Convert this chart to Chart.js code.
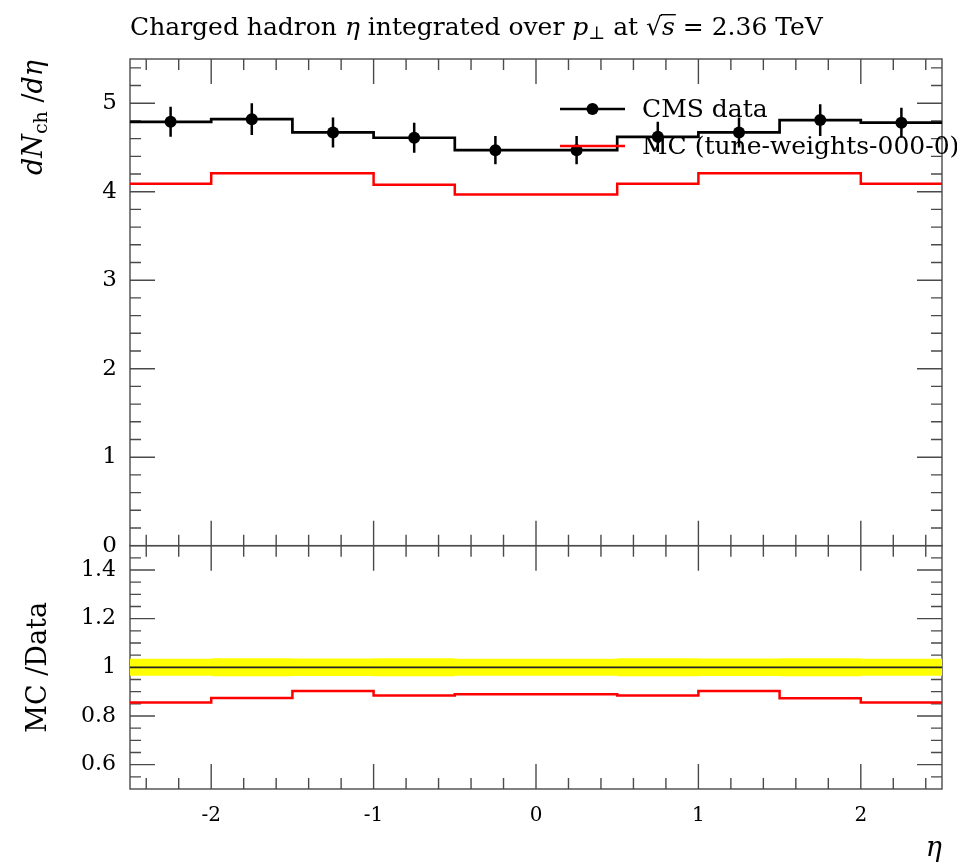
<!DOCTYPE html>
<html>
<head>
<meta charset="utf-8">
<script src="https://cdn.jsdelivr.net/npm/chart.js@4"></script>
<style>
  html, body { margin: 0; padding: 0; background: #fff; }
  #plot { display: block; }
</style>
</head>
<body>
<canvas id="plot" width="957" height="864"></canvas>
<script>
// eta bins and measured / generated dN/deta
var binEdges = [-2.5, -2, -1.5, -1, -0.5, 0, 0.5, 1, 1.5, 2, 2.5];
var cmsValues = [4.79, 4.82, 4.67, 4.61, 4.47, 4.47, 4.62, 4.67, 4.81, 4.78];
var cmsErrors = [0.17, 0.18, 0.17, 0.17, 0.16, 0.16, 0.17, 0.17, 0.18, 0.17];
var mcValues = [4.09, 4.21, 4.21, 4.08, 3.97, 3.97, 4.09, 4.21, 4.21, 4.09];
// ratio panel
var mcRatio = [0.855, 0.874, 0.903, 0.884, 0.889, 0.889, 0.884, 0.903, 0.873, 0.855];
var bandHalf = [0.035, 0.037, 0.036, 0.037, 0.035, 0.035, 0.037, 0.036, 0.037, 0.035];
var unity = 1;
// tick labels
var xTicks = [-2, -1, 0, 1, 2];
var mainTicks = [0, 1, 2, 3, 4, 5];
var ratioTicks = [0.6, 0.8, 1, 1.2, 1.4];

var SERIF = '"DejaVu Serif", serif';
Chart.defaults.font.family = SERIF;
Chart.defaults.color = '#000';

// histogram outline: one point per lower edge, plus the last upper edge
function stepPoints(vals) {
	var pts = vals.map(function (v, i) { return { x: binEdges[i], y: v }; });
	pts.push({ x: binEdges[binEdges.length - 1], y: vals[vals.length - 1] });
	return pts;
}
function binCenters(vals) {
	return vals.map(function (v, i) { return { x: (binEdges[i] + binEdges[i + 1]) / 2, y: v }; });
}

var cmsPoints = binCenters(cmsValues);
var bandUp = stepPoints(bandHalf.map(function (h) { return unity + h; }));
var bandDown = stepPoints(bandHalf.map(function (h) { return unity - h; }));

function stepLine(data, color, axis, width) {
	return {
		data: data, yAxisID: axis, borderColor: color, borderWidth: width,
		stepped: 'before', pointRadius: 0, fill: false
	};
}

// mixed-font text run
function richWidth(ctx, parts) {
	var w = 0;
	parts.forEach(function (p) { ctx.font = p.f; w += ctx.measureText(p.t).width; });
	return w;
}
function drawRich(ctx, parts, x, y) {
	parts.forEach(function (p) {
		ctx.font = p.f;
		var w = ctx.measureText(p.t).width;
		ctx.fillText(p.t, x, y + (p.dy || 0));
		if (p.over) ctx.fillRect(x - 1, y - p.over, w + 2, 1.4);
		x += w;
	});
}

var R = '25px ' + SERIF, I = 'italic 25px ' + SERIF, S = '18px ' + SERIF;
var titleParts = [
	{ t: 'Charged hadron ', f: R }, { t: 'η', f: I }, { t: ' integrated over ', f: R },
	{ t: 'p', f: I }, { t: '⊥', f: S, dy: 4 }, { t: ' at ', f: R }, { t: '√', f: R },
	{ t: 's', f: I, over: 21 }, { t: ' = 2.36 TeV', f: R }
];
var R2 = '27px ' + SERIF, I2 = 'italic 27px ' + SERIF, S2 = '19px ' + SERIF;
var yTitleParts = [
	{ t: 'd', f: I2 }, { t: 'N', f: I2 }, { t: 'ch', f: S2, dy: 5 },
	{ t: ' /', f: R2 }, { t: 'd', f: I2 }, { t: 'η', f: I2 }
];
var ratioTitleParts = [{ t: 'MC /Data', f: R2 }];

// frame with inward ticks on both panels
var framePlugin = {
	id: 'frame',
	beforeDatasetsDraw: function (chart) {
		var ctx = chart.ctx, sx = chart.scales.x;
		var panels = [
			{ s: chart.scales.y, step: 0.2, from: 0, n: 27, major: function (k) { return k % 5 === 0; } },
			{ s: chart.scales.yr, step: 0.05, from: 0.5, n: 19, major: function (k) { return (k - 2) % 4 === 0; } }
		];
		ctx.save();
		ctx.strokeStyle = '#4a4a4a';
		ctx.lineWidth = 1.4;
		panels.forEach(function (p) {
			var s = p.s;
			ctx.strokeRect(sx.left, s.top, sx.right - sx.left, s.bottom - s.top);
			ctx.beginPath();
			for (var k = -12; k <= 12; k++) {
				var px = sx.getPixelForValue(k / 5);
				var len = k % 5 === 0 ? 25 : 11;
				ctx.moveTo(px, s.top); ctx.lineTo(px, s.top + len);
				ctx.moveTo(px, s.bottom); ctx.lineTo(px, s.bottom - len);
			}
			for (var j = 1; j <= p.n; j++) {
				var py = s.getPixelForValue(p.from + j * p.step);
				var l2 = p.major(j) ? 25 : 11;
				ctx.moveTo(sx.left, py); ctx.lineTo(sx.left + l2, py);
				ctx.moveTo(sx.right, py); ctx.lineTo(sx.right - l2, py);
			}
			ctx.stroke();
		});
		ctx.restore();
	}
};

var errorBarPlugin = {
	id: 'errorBars',
	afterDatasetsDraw: function (chart) {
		var ctx = chart.ctx, sx = chart.scales.x, sy = chart.scales.y;
		ctx.save();
		ctx.strokeStyle = '#000';
		ctx.lineWidth = 2.5;
		ctx.beginPath();
		cmsPoints.forEach(function (p, i) {
			var px = sx.getPixelForValue(p.x);
			ctx.moveTo(px, sy.getPixelForValue(p.y - cmsErrors[i]));
			ctx.lineTo(px, sy.getPixelForValue(p.y + cmsErrors[i]));
		});
		ctx.stroke();
		ctx.restore();
	}
};

var textPlugin = {
	id: 'texts',
	afterDraw: function (chart) {
		var ctx = chart.ctx, sx = chart.scales.x;
		var ds = chart.data.datasets;
		ctx.save();
		ctx.fillStyle = '#000';
		ctx.textBaseline = 'alphabetic';
		ctx.textAlign = 'left';

		drawRich(ctx, titleParts, 130, 35);

		// legend
		var lx = 560, lw = 65;
		ctx.lineWidth = 2.5;
		ctx.strokeStyle = '#000';
		ctx.beginPath(); ctx.moveTo(lx, 109); ctx.lineTo(lx + lw, 109); ctx.stroke();
		ctx.beginPath(); ctx.arc(lx + lw / 2, 109, 6, 0, Math.PI * 2); ctx.fill();
		ctx.strokeStyle = '#ff0000';
		ctx.beginPath(); ctx.moveTo(lx, 146); ctx.lineTo(lx + lw, 146); ctx.stroke();
		ctx.font = R;
		ctx.fillText(ds[0].label, 642, 117);
		ctx.fillText(ds[2].label, 642, 154);

		// axis titles
		ctx.save();
		ctx.translate(42, 60);
		ctx.rotate(-Math.PI / 2);
		drawRich(ctx, yTitleParts, -richWidth(ctx, yTitleParts), 0);
		ctx.restore();

		ctx.save();
		ctx.translate(46, chart.scales.yr.getPixelForValue(unity));
		ctx.rotate(-Math.PI / 2);
		drawRich(ctx, ratioTitleParts, -richWidth(ctx, ratioTitleParts) / 2, 0);
		ctx.restore();

		ctx.font = I2;
		ctx.textAlign = 'right';
		ctx.fillText('η', sx.right, 856);
		ctx.restore();
	}
};

function fixedTicks(list) {
	return function (scale) {
		scale.ticks = list.map(function (v) { return { value: v }; });
	};
}
function plainLabel(v) { return String(v); }

new Chart(document.getElementById('plot'), {
	type: 'line',
	data: {
		datasets: [
			{
				label: 'CMS data', data: cmsPoints, yAxisID: 'y', showLine: false,
				pointRadius: 6, pointBackgroundColor: '#000', pointBorderWidth: 0
			},
			stepLine(stepPoints(cmsValues), '#000', 'y', 2.7),
			Object.assign(stepLine(stepPoints(mcValues), '#ff0000', 'y', 2.5), { label: 'MC (tune-weights-000-0)' }),
			stepLine(stepPoints(mcRatio), '#ff0000', 'yr', 2.5),
			stepLine([{ x: binEdges[0], y: unity }, { x: binEdges[binEdges.length - 1], y: unity }], '#222', 'yr', 1.8),
			Object.assign(stepLine(bandUp, 'rgba(0,0,0,0)', 'yr', 0), { fill: '+1', backgroundColor: '#ffff00' }),
			stepLine(bandDown, 'rgba(0,0,0,0)', 'yr', 0)
		]
	},
	options: {
		responsive: false,
		animation: false,
		devicePixelRatio: 1,
		layout: { padding: { top: 59, right: 15, left: 0, bottom: 0 } },
		plugins: {
			legend: { display: false },
			tooltip: { enabled: false },
			title: { display: false }
		},
		scales: {
			x: {
				type: 'linear', position: 'bottom', min: -2.5, max: 2.5,
				grid: { display: false, drawTicks: false }, border: { display: false },
				afterBuildTicks: fixedTicks(xTicks),
				afterFit: function (s) { s.height = 75; },
				ticks: { font: { size: 20 }, padding: 15, maxRotation: 0, autoSkip: false, callback: plainLabel }
			},
			y: {
				type: 'linear', position: 'left', stack: 'panels', stackWeight: 2, weight: 1,
				min: 0, max: 5.5,
				grid: { display: false, drawTicks: false }, border: { display: false },
				afterBuildTicks: fixedTicks(mainTicks),
				afterFit: function (s) { s.width = 130; },
				ticks: { font: { size: 23 }, padding: 13, autoSkip: false, callback: plainLabel }
			},
			yr: {
				type: 'linear', position: 'left', stack: 'panels', stackWeight: 1, weight: 0,
				min: 0.5, max: 1.5,
				grid: { display: false, drawTicks: false }, border: { display: false },
				afterBuildTicks: fixedTicks(ratioTicks),
				afterFit: function (s) { s.width = 130; },
				ticks: { font: { size: 22 }, padding: 14, autoSkip: false, callback: plainLabel }
			}
		}
	},
	plugins: [framePlugin, errorBarPlugin, textPlugin]
});
</script>
</body>
</html>
